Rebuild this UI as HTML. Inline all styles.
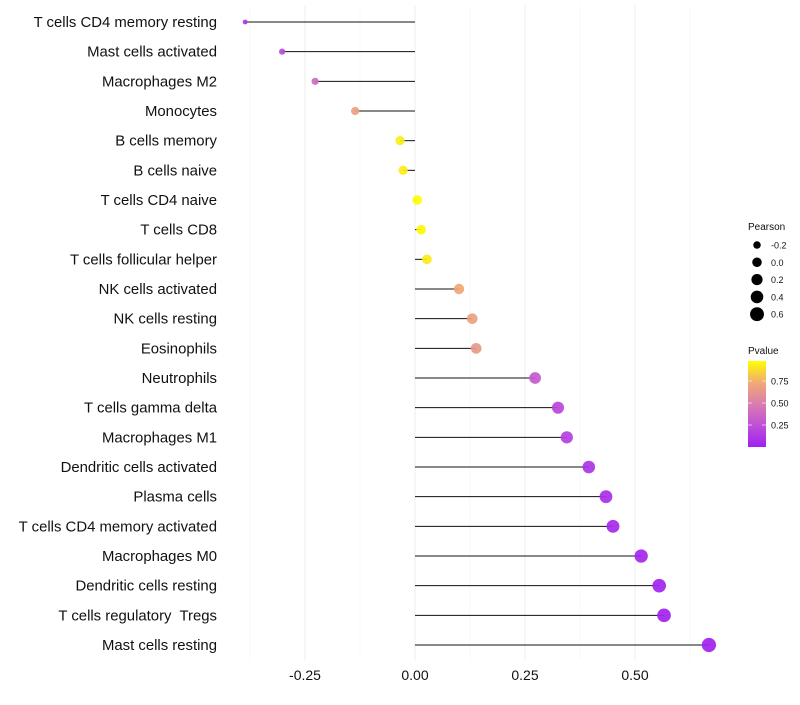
<!DOCTYPE html>
<html><head><meta charset="utf-8"><style>
body{margin:0;background:#fff;font-family:"Liberation Sans",sans-serif;}
svg text{white-space:pre;}
</style></head><body>
<svg id="c" width="800" height="700"></svg>
<script>
const categories=["T cells CD4 memory resting","Mast cells activated","Macrophages M2","Monocytes","B cells memory","B cells naive","T cells CD4 naive","T cells CD8","T cells follicular helper","NK cells activated","NK cells resting","Eosinophils","Neutrophils","T cells gamma delta","Macrophages M1","Dendritic cells activated","Plasma cells","T cells CD4 memory activated","Macrophages M0","Dendritic cells resting","T cells regulatory  Tregs ","Mast cells resting"];
const pearson=[-0.386,-0.302,-0.227,-0.136,-0.034,-0.027,0.005,0.014,0.027,0.10,0.13,0.139,0.273,0.325,0.345,0.395,0.434,0.45,0.514,0.555,0.566,0.668];
const pvalues=[0.1,0.22,0.4,0.68,0.93,0.93,0.97,0.96,0.92,0.72,0.68,0.64,0.3,0.2,0.16,0.1,0.07,0.05,0.03,0.02,0.015,0.005];
const xTicks=[-0.25,0,0.25,0.5];
const xTickLabels=["-0.25","0.00","0.25","0.50"];
const sizeLegend=[-0.2,0.0,0.2,0.4,0.6];
const colorLegend=[0.25,0.5,0.75];

const NS="http://www.w3.org/2000/svg";
const svg=document.getElementById('c');
function el(t,a,p){const e=document.createElementNS(NS,t);for(const k in a)e.setAttribute(k,a[k]);(p||svg).appendChild(e);return e;}
const x=v=>415+v*440;
const y=i=>22+i*(623/21);
const r=v=>Math.sqrt(Math.max(1.5,20+40*v))+0.3;
const stops=[[0,[160,32,240]],[0.25,[190,80,215]],[0.5,[218,125,175]],[0.75,[240,170,115]],[1,[255,255,0]]];
function col(p){p=Math.min(1,Math.max(0,p/0.98));for(let k=1;k<stops.length;k++){if(p<=stops[k][0]){const a=stops[k-1],b=stops[k],t=(p-a[0])/(b[0]-a[0]);const c=a[1].map((v,j)=>Math.round(v+(b[1][j]-v)*t));return `rgb(${c})`;}}return 'rgb(255,255,0)';}

for(let g=-0.375;g<=0.63;g+=0.125){const major=Math.abs((g*4)%1)<1e-6;const gl=el('line',{x1:x(g),x2:x(g),y1:5,y2:660,stroke:major?'#ececec':'#f5f5f5','stroke-width':major?1:0.6});

}
xTicks.forEach((t,i)=>{const tx=el('text',{x:x(t),y:680,'text-anchor':'middle','font-size':14,fill:'#111'});tx.textContent=xTickLabels[i];

});
categories.forEach((c,i)=>{
const lb=el('text',{x:217,y:y(i)+5,'text-anchor':'end','font-size':14.9,fill:'#111'});lb.textContent=c.replace(/ $/,'');


const ln=el('line',{x1:x(0),x2:x(pearson[i]),y1:y(i),y2:y(i),stroke:'#111','stroke-width':1});


const d=el('circle',{cx:x(pearson[i]),cy:y(i),r:r(pearson[i]),fill:col(pvalues[i]),'fill-opacity':0.92});


});
const lt=el('text',{x:748,y:230,'font-size':10,fill:'#111'});lt.textContent='Pearson';


sizeLegend.forEach((v,i)=>{const cy=245+i*17.3;
const c=el('circle',{cx:757,cy:cy,r:r(v),fill:'#000'});


const t=el('text',{x:771,y:cy+3.5,'font-size':9,fill:'#111'});t.textContent=v.toFixed(1);

});
const pt=el('text',{x:748,y:354,'font-size':10,fill:'#111'});pt.textContent='Pvalue';


const defs=el('defs',{});const lg=el('linearGradient',{id:'g',x1:0,y1:1,x2:0,y2:0},defs);
stops.forEach(s=>el('stop',{offset:s[0],'stop-color':`rgb(${s[1]})`},lg));
const cb=el('rect',{x:748,y:361,width:18,height:86,fill:'url(#g)'});


const cy=p=>447-p*88;
colorLegend.forEach(p=>{el('line',{x1:748,x2:752,y1:cy(p),y2:cy(p),stroke:'#fff','stroke-opacity':0.6});el('line',{x1:762,x2:766,y1:cy(p),y2:cy(p),stroke:'#fff','stroke-opacity':0.6});
const t=el('text',{x:771,y:cy(p)+3.5,'font-size':9,fill:'#111'});t.textContent=p.toFixed(2);

});
</script>
</body></html>
